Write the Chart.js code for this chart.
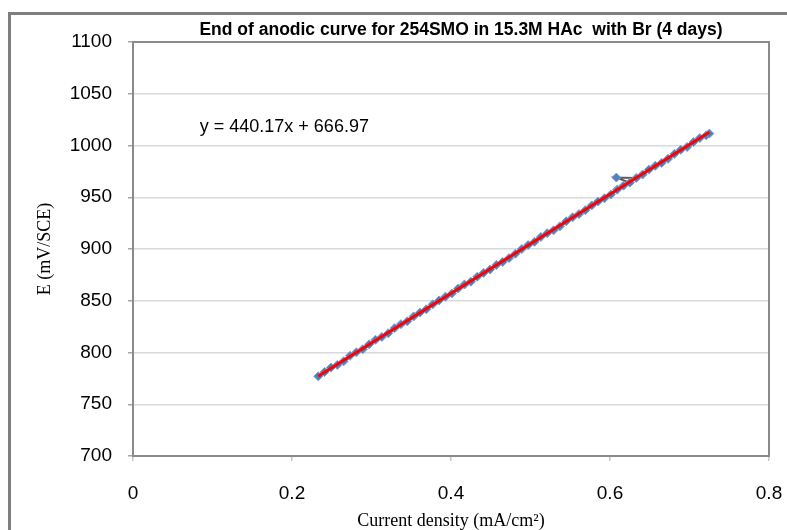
<!DOCTYPE html>
<html>
<head>
<meta charset="utf-8">
<script src="https://cdn.jsdelivr.net/npm/chart.js@4/dist/chart.umd.min.js"></script>
<style>
  html, body { margin: 0; padding: 0; background: #ffffff; }
  #wrap { position: relative; width: 787px; height: 530px; overflow: hidden; }
  #frame {
    position: absolute; left: 8px; top: 12px; width: 820px; height: 560px;
    border-left: 3px solid #7f7f7f; border-top: 3px solid #7f7f7f; box-sizing: border-box;
  }
  #c { position: absolute; left: 0; top: 0; }
</style>
</head>
<body>
<div id="wrap">
  <div id="frame"></div>
  <canvas id="c" width="787" height="530"></canvas>
</div>
<script>
// Polarisation data: current density (mA/cm²) and potential (mV vs SCE)
const currentDensity = [
  0.233, 0.241, 0.249, 0.257, 0.265, 0.273, 0.281, 0.289, 0.297, 0.305,
  0.313, 0.321, 0.329, 0.337, 0.345, 0.353, 0.361, 0.369, 0.377, 0.385,
  0.393, 0.401, 0.409, 0.417, 0.425, 0.433, 0.441, 0.449, 0.457, 0.465,
  0.473, 0.481, 0.489, 0.497, 0.505, 0.513, 0.521, 0.529, 0.537, 0.545,
  0.553, 0.561, 0.569, 0.577, 0.585, 0.593, 0.601, 0.609, 0.617, 0.625,
  0.608,
  0.633, 0.641, 0.649, 0.657, 0.665, 0.673, 0.681, 0.689, 0.697, 0.705,
  0.713, 0.721, 0.725
];
const potential = [
  777.0, 781.2, 785.4, 788.0, 791.5, 796.8, 800.2, 803.1, 807.9, 812.3,
  815.0, 818.6, 823.5, 827.4, 830.1, 834.9, 838.6, 841.7, 846.5, 850.3,
  853.9, 857.0, 861.8, 865.7, 868.4, 873.2, 876.9, 880.1, 884.6, 887.5,
  891.2, 895.4, 899.9, 903.8, 906.9, 911.6, 915.3, 918.0, 921.9, 926.8,
  930.6, 933.7, 937.5, 942.1, 945.9, 949.0, 952.6, 957.3, 961.2, 964.1,
  969.0,
  968.6, 972.0, 976.7, 980.4, 983.2, 987.1, 991.9, 995.8, 998.6, 1003.3,
  1007.2, 1009.8, 1011.5
];
// index of the stray reading that sits off the main curve
const strayIndex = 50;

const xTicks = [0, 0.2, 0.4, 0.6, 0.8];
const yTicks = [700, 750, 800, 850, 900, 950, 1000, 1050, 1100];

const chartTitle = 'End of anodic curve for 254SMO in 15.3M HAc  with Br (4 days)';
const fitLabel = 'y = 440.17x + 666.97';
const xTitle = 'Current density (mA/cm\u00B2)';
const yTitle = 'E (mV/SCE)';

// least-squares straight line through the measured points
function linearFit(xs, ys) {
  const n = xs.length;
  let sx = 0, sy = 0, sxx = 0, sxy = 0;
  for (let i = 0; i < n; i++) {
    sx += xs[i]; sy += ys[i]; sxx += xs[i] * xs[i]; sxy += xs[i] * ys[i];
  }
  const slope = (n * sxy - sx * sy) / (n * sxx - sx * sx);
  return { slope, intercept: (sy - slope * sx) / n };
}
const fit = linearFit(currentDensity, potential);
const xLo = Math.min(...currentDensity);
const xHi = Math.max(...currentDensity);

const measured = currentDensity.map((x, i) => ({ x, y: potential[i] }));
const trend = [xLo, xHi].map(x => ({ x, y: fit.intercept + fit.slope * x }));

const plotFrame = {
  id: 'plotFrame',
  beforeDatasetsDraw(chart) {
    const { ctx, chartArea: a } = chart;
    ctx.save();
    ctx.strokeStyle = '#8a8a8a';
    ctx.lineWidth = 2;
    ctx.strokeRect(a.left, a.top, a.right - a.left, a.bottom - a.top);
    ctx.restore();
  }
};

const annotations = {
  id: 'annotations',
  afterDraw(chart) {
    const { ctx, chartArea: a, scales } = chart;
    ctx.save();
    ctx.fillStyle = '#000000';
    ctx.textBaseline = 'middle';
    // chart heading
    ctx.font = 'bold 17.5px "Liberation Sans", sans-serif';
    ctx.textAlign = 'center';
    ctx.fillText(chartTitle, (a.left + a.right) / 2 + 10, 30);
    // trendline equation
    ctx.font = '18px "Liberation Sans", sans-serif';
    ctx.textAlign = 'left';
    ctx.fillText(fitLabel, scales.x.getPixelForValue(0.084), scales.y.getPixelForValue(1018));
    ctx.restore();
  }
};

new Chart(document.getElementById('c'), {
  type: 'scatter',
  data: {
    datasets: [
      {
        label: 'Linear fit',
        data: trend,
        showLine: true,
        borderColor: '#ff0000',
        borderWidth: 3,
        pointRadius: 0,
        order: 0
      },
      {
        label: 'Measured',
        data: measured,
        showLine: true,
        borderColor: '#4a7ebb',
        borderWidth: 3.5,
        pointStyle: 'rectRot',
        pointRadius: 4.5,
        pointBorderWidth: 1,
        pointBackgroundColor: '#4f81bd',
        pointBorderColor: '#7ba3d4',
        segment: {
          borderColor: ctx => (ctx.p0DataIndex === strayIndex || ctx.p1DataIndex === strayIndex) ? '#5a5a5a' : undefined,
          borderWidth: ctx => (ctx.p0DataIndex === strayIndex || ctx.p1DataIndex === strayIndex) ? 2 : undefined
        },
        order: 1
      }
    ]
  },
  options: {
    responsive: false,
    animation: false,
    devicePixelRatio: 1,
    layout: { padding: { top: 42, left: 0, right: 0, bottom: 0 } },
    plugins: {
      legend: { display: false },
      tooltip: { enabled: false },
      title: { display: false }
    },
    scales: {
      x: {
        type: 'linear',
        min: 0,
        max: 0.8,
        afterBuildTicks: s => { s.ticks = xTicks.map(v => ({ value: v })); },
        afterFit: s => { s.height = 74; s.paddingLeft = 0; s.paddingRight = 18; },
        ticks: {
          color: '#000000',
          padding: 21,
          callback: v => String(v),
          font: { family: '"Liberation Sans", sans-serif', size: 19 }
        },
        grid: { drawOnChartArea: false, tickLength: 5, tickColor: '#c8c8c8', lineWidth: 1.5 },
        border: { color: '#8a8a8a', width: 2 },
        title: {
          display: true,
          text: xTitle,
          color: '#000000',
          padding: { top: 0, bottom: 0 },
          font: { family: '"Liberation Serif", "Times New Roman", serif', size: 18, lineHeight: 1.0 }
        }
      },
      y: {
        type: 'linear',
        min: 700,
        max: 1100,
        afterBuildTicks: s => { s.ticks = yTicks.map(v => ({ value: v })); },
        afterFit: s => { s.width = 133; },
        ticks: {
          color: '#000000',
          padding: 16,
          callback: v => String(v),
          font: { family: '"Liberation Sans", sans-serif', size: 19 }
        },
        grid: { color: '#d9d9d9', lineWidth: 1.5, tickLength: 5, tickColor: '#a6a6a6' },
        border: { color: '#8a8a8a', width: 2 },
        title: {
          display: true,
          text: yTitle,
          color: '#000000',
          padding: { top: 34, bottom: 0 },
          font: { family: '"Liberation Serif", "Times New Roman", serif', size: 18, lineHeight: 1.2 }
        }
      }
    }
  },
  plugins: [plotFrame, annotations]
});
</script>
</body>
</html>
